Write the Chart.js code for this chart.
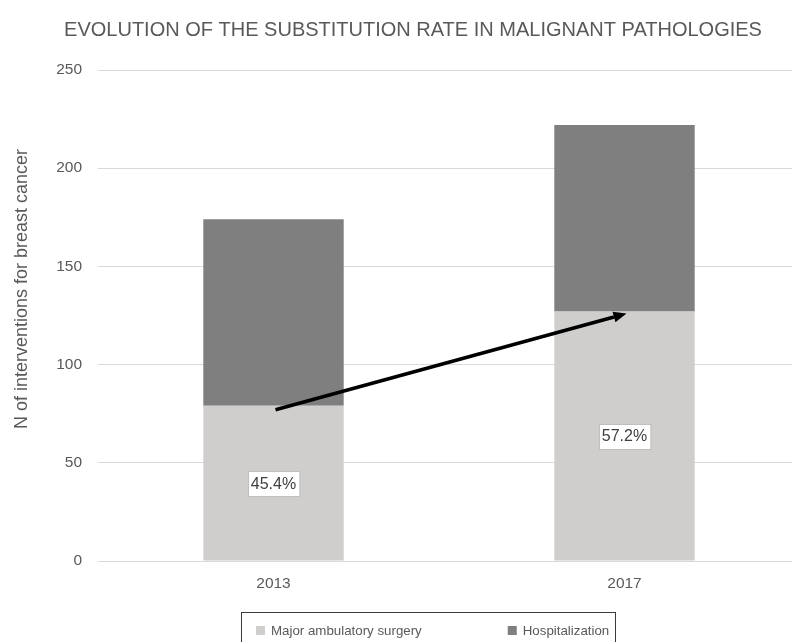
<!DOCTYPE html>
<html><head><meta charset="utf-8">
<script src="https://cdn.jsdelivr.net/npm/chart.js@4.4.1/dist/chart.umd.min.js"></script>
<style>html,body{margin:0;padding:0;overflow:hidden;background:#fff;width:792px;height:642px}canvas{display:block}</style>
</head><body><canvas id="c" width="802" height="642"></canvas>
<script>
const chartTitle = 'EVOLUTION OF THE SUBSTITUTION RATE IN MALIGNANT PATHOLOGIES';
const yAxisTitle = 'N of interventions for breast cancer';
const years = ['2013', '2017'];
const seriesNames = ['Major ambulatory surgery', 'Hospitalization'];
const ambulatory = [79, 127];
const hospitalization = [95, 95];
const shareLabels = ['45.4%', '57.2%'];
const yTicks = [0, 50, 100, 150, 200, 250];
const arrowFrom = [0, 77];
const arrowTo = [1, 126];

const FONT = "'Liberation Sans', Arial, Helvetica, sans-serif";
const GREY = '#595959';

const overlay = {
  id: 'overlay',
  afterDraw(chart) {
    const ctx = chart.ctx;
    const xs = chart.scales.x, ys = chart.scales.y;
    ctx.save();
    // title
    ctx.fillStyle = GREY;
    ctx.font = '20px ' + FONT;
    ctx.textAlign = 'center';
    ctx.textBaseline = 'middle';
    ctx.fillText(chartTitle, 413, 30);
    // y axis title
    ctx.save();
    ctx.translate(22, 289);
    ctx.rotate(-Math.PI / 2);
    ctx.font = '18px ' + FONT;
    ctx.fillText(yAxisTitle, 0, 0);
    ctx.restore();
    // share labels in the light segment
    const meta = chart.getDatasetMeta(0);
    ctx.font = '16px ' + FONT;
    meta.data.forEach((el, i) => {
      const cx = el.x, cy = (el.y + el.base) / 2;
      const w = ctx.measureText(shareLabels[i]).width + 6;
      const h = 25;
      const bx = Math.round(cx - w / 2) + 0.5, by = Math.round(cy - h / 2) + 0.5;
      ctx.fillStyle = '#ffffff';
      ctx.fillRect(bx, by, w, h);
      ctx.strokeStyle = '#bfbfbf';
      ctx.lineWidth = 1;
      ctx.strokeRect(bx, by, w, h);
      ctx.fillStyle = '#404040';
      ctx.fillText(shareLabels[i], cx, cy + 1);
    });
    // arrow
    const x1 = xs.getPixelForValue(arrowFrom[0]) + 2, y1 = ys.getPixelForValue(arrowFrom[1]);
    const x2 = xs.getPixelForValue(arrowTo[0]) + 2, y2 = ys.getPixelForValue(arrowTo[1]);
    const ang = Math.atan2(y2 - y1, x2 - x1);
    const head = 13, hw = 5.5;
    const bxh = x2 - head * Math.cos(ang), byh = y2 - head * Math.sin(ang);
    ctx.strokeStyle = '#000';
    ctx.fillStyle = '#000';
    ctx.lineWidth = 3.5;
    ctx.beginPath();
    ctx.moveTo(x1, y1);
    ctx.lineTo(bxh, byh);
    ctx.stroke();
    ctx.beginPath();
    ctx.moveTo(x2, y2);
    ctx.lineTo(bxh + hw * Math.sin(ang), byh - hw * Math.cos(ang));
    ctx.lineTo(bxh - hw * Math.sin(ang), byh + hw * Math.cos(ang));
    ctx.closePath();
    ctx.fill();
    // legend
    ctx.lineWidth = 1;
    ctx.strokeStyle = '#3a3a3a';
    ctx.strokeRect(241.5, 612.5, 374, 60);
    ctx.font = '13.3px ' + FONT;
    ctx.textAlign = 'left';
    let lx = 256;
    chart.data.datasets.forEach(ds => {
      ctx.fillStyle = ds.backgroundColor;
      ctx.fillRect(lx, 626, 9, 9);
      ctx.fillStyle = GREY;
      ctx.fillText(ds.label, lx + 15, 631);
      lx += 15 + ctx.measureText(ds.label).width + 86;
    });
    ctx.restore();
  }
};

new Chart(document.getElementById('c'), {
  type: 'bar',
  data: {
    labels: years,
    datasets: [
      { label: seriesNames[0], data: ambulatory, backgroundColor: '#d0cecd', borderWidth: 0 },
      { label: seriesNames[1], data: hospitalization, backgroundColor: '#7f7f7f', borderWidth: 0 }
    ]
  },
  options: {
    responsive: false,
    animation: false,
    devicePixelRatio: 1,
    layout: { padding: { top: 70, bottom: 50, left: 0, right: 2 } },
    datasets: { bar: { barPercentage: 0.4, categoryPercentage: 1 } },
    plugins: { legend: { display: false }, title: { display: false }, tooltip: { enabled: false } },
    scales: {
      x: {
        stacked: true,
        grid: { display: false, drawTicks: false },
        border: { display: false },
        ticks: { padding: 13, color: GREY, font: { size: 15.5, family: FONT } },
        afterFit(s) { s.height = 31; }
      },
      y: {
        stacked: true,
        min: 0, max: 250,
        afterBuildTicks(s) { s.ticks = yTicks.map(v => ({ value: v })); },
        ticks: { padding: 16, color: GREY, font: { size: 15.5, family: FONT } },
        grid: { color: '#d9d9d9', lineWidth: 1, drawTicks: false },
        border: { display: false },
        afterFit(s) { s.width = 98; }
      }
    }
  },
  plugins: [overlay]
});
</script>
</body></html>
